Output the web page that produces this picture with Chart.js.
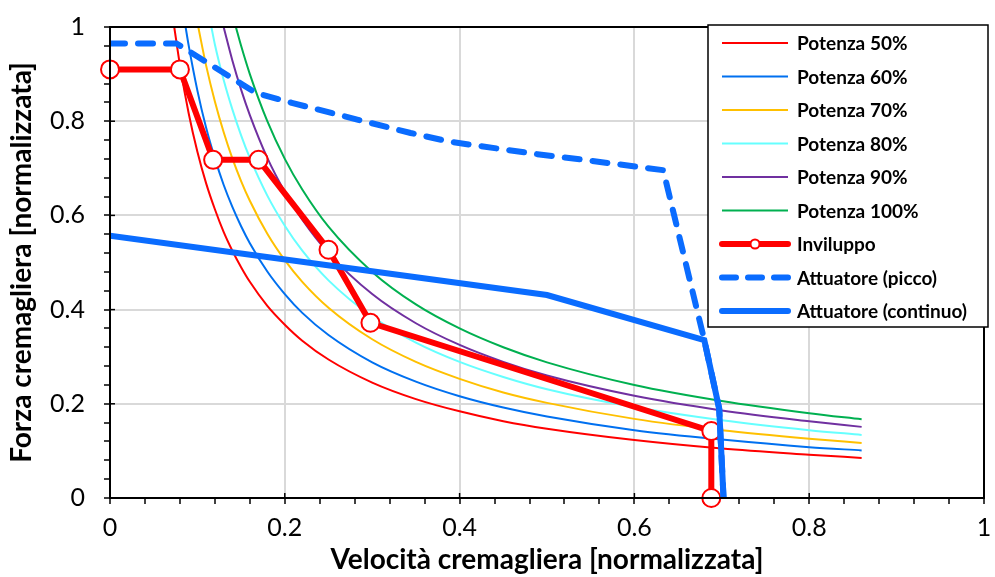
<!DOCTYPE html>
<html>
<head>
<meta charset="utf-8">
<script src="https://cdn.jsdelivr.net/npm/chart.js@4.4.1/dist/chart.umd.min.js"></script>
<style>
  html, body { margin: 0; padding: 0; background: #fff; }
  #wrap { width: 995px; height: 577px; }
</style>
</head>
<body>
<div id="wrap"><canvas id="chart" width="995" height="577"></canvas></div>
<script>
// Velocity samples shared by the power curves
const vel = [0.08, 0.09, 0.1, 0.11, 0.12, 0.13, 0.14, 0.15, 0.16, 0.18, 0.2, 0.22, 0.25, 0.3, 0.35, 0.4, 0.45, 0.5, 0.6, 0.7, 0.8, 0.86];

// Velocity where each power curve enters the plot (force = 1)
const velTop = [0.0735, 0.0865, 0.101, 0.116, 0.13, 0.144];

const potenza50  = [0.919, 0.817, 0.735, 0.668, 0.613, 0.565, 0.525, 0.49, 0.459, 0.408, 0.368, 0.334, 0.294, 0.245, 0.21, 0.184, 0.163, 0.147, 0.123, 0.105, 0.092, 0.085];
const potenza60  = [null, 0.961, 0.865, 0.786, 0.721, 0.665, 0.618, 0.577, 0.541, 0.481, 0.433, 0.393, 0.346, 0.288, 0.247, 0.216, 0.192, 0.173, 0.144, 0.124, 0.108, 0.101];
const potenza70  = [null, null, null, 0.918, 0.842, 0.777, 0.721, 0.673, 0.631, 0.561, 0.505, 0.459, 0.404, 0.337, 0.289, 0.253, 0.224, 0.202, 0.168, 0.144, 0.126, 0.117];
const potenza80  = [null, null, null, null, 0.963, 0.888, 0.825, 0.77, 0.722, 0.642, 0.578, 0.525, 0.462, 0.385, 0.33, 0.289, 0.257, 0.231, 0.193, 0.165, 0.144, 0.134];
const potenza90  = [null, null, null, null, null, null, 0.929, 0.867, 0.813, 0.722, 0.65, 0.591, 0.52, 0.433, 0.371, 0.325, 0.289, 0.26, 0.217, 0.186, 0.163, 0.151];
const potenza100 = [null, null, null, null, null, null, null, 0.96, 0.9, 0.8, 0.72, 0.655, 0.576, 0.48, 0.411, 0.36, 0.32, 0.288, 0.24, 0.206, 0.18, 0.167];

// Envelope
const invV = [0, 0.08, 0.118, 0.17, 0.25, 0.298, 0.688, 0.688];
const invF = [0.91, 0.91, 0.718, 0.718, 0.527, 0.372, 0.142, 0];

// Actuator, peak
const piccoV = [0, 0.076, 0.167, 0.208, 0.284, 0.344, 0.39, 0.489, 0.542, 0.633, 0.68, 0.697, 0.702];
const piccoF = [0.965, 0.965, 0.86, 0.839, 0.803, 0.775, 0.756, 0.73, 0.718, 0.696, 0.335, 0.19, 0];

// Actuator, continuous
const contV = [0, 0.5, 0.68, 0.697, 0.702];
const contF = [0.557, 0.431, 0.335, 0.19, 0];

const xTicks = ['0', '0.2', '0.4', '0.6', '0.8', '1'];
const yTicks = ['0', '0.2', '0.4', '0.6', '0.8', '1'];

const curveLabels = ['Potenza 50%', 'Potenza 60%', 'Potenza 70%', 'Potenza 80%', 'Potenza 90%', 'Potenza 100%'];
const curveColors = ['#ff0000', '#0070f0', '#ffc000', '#66ffff', '#7030a0', '#00b050'];
const curveValues = [potenza50, potenza60, potenza70, potenza80, potenza90, potenza100];
const actBlue = '#0a6cff';

const FONT = 'Lato, "Open Sans", sans-serif';

function pts(xs, ys) {
    const out = [];
    xs.forEach((x, i) => { if (ys[i] !== null) out.push({ x: x, y: ys[i] }); });
    return out;
}

const datasets = curveLabels.map((label, i) => ({
    label: label,
    data: [{ x: velTop[i], y: 1 }].concat(pts(vel, curveValues[i])),
    borderColor: curveColors[i],
    backgroundColor: curveColors[i],
    borderWidth: 2,
    pointRadius: 0,
    cubicInterpolationMode: 'monotone',
    order: 3 + i
}));

datasets.push({
    label: 'Inviluppo',
    data: pts(invV, invF),
    borderColor: '#ff0000',
    backgroundColor: '#ffffff',
    borderWidth: 6,
    pointRadius: 9,
    pointBorderWidth: 2,
    pointBorderColor: '#ff0000',
    pointBackgroundColor: '#ffffff',
    clip: false,
    order: 2
});
datasets.push({
    label: 'Attuatore (picco)',
    data: pts(piccoV, piccoF),
    borderColor: actBlue,
    borderWidth: 6,
    borderDash: [15, 13],
    borderCapStyle: 'round',
    pointRadius: 0,
    order: 1
});
datasets.push({
    label: 'Attuatore (continuo)',
    data: pts(contV, contF),
    borderColor: actBlue,
    borderWidth: 6,
    pointRadius: 0,
    order: 0
});

function isMajor(v) {
    return Math.abs(v * 5 - Math.round(v * 5)) < 1e-6;
}
function majorLabel(v, labels) {
    return labels[Math.round(v * 5)];
}

// Frame, inner major ticks and the boxed legend inside the plot
const framePlugin = {
    id: 'frame',
    afterDatasetsDraw(chart) {
        const ctx = chart.ctx;
        const a = chart.chartArea;
        const xs = chart.scales.x, ys = chart.scales.y;
        ctx.save();
        ctx.strokeStyle = '#000';
        ctx.lineWidth = 2;
        ctx.strokeRect(a.left, a.top, a.right - a.left, a.bottom - a.top);
        ctx.lineWidth = 1.5;
        for (let i = 0; i <= 5; i++) {
            const px = xs.getPixelForValue(i * 0.2);
            ctx.beginPath(); ctx.moveTo(px, a.bottom); ctx.lineTo(px, a.bottom - 5); ctx.stroke();
            const py = ys.getPixelForValue(i * 0.2);
            ctx.beginPath(); ctx.moveTo(a.left, py); ctx.lineTo(a.left + 5, py); ctx.stroke();
        }

        // legend
        const lx = 708, ly = 25, lw = 280, lh = 302;
        ctx.fillStyle = '#fff';
        ctx.fillRect(lx, ly, lw, lh);
        ctx.strokeStyle = '#000';
        ctx.lineWidth = 1.5;
        ctx.strokeRect(lx, ly, lw, lh);
        ctx.font = 'bold 19px ' + FONT;
        ctx.textBaseline = 'middle';
        ctx.textAlign = 'left';
        chart.data.datasets.forEach((ds, i) => {
            const y = ly + 18 + i * 33.5;
            ctx.save();
            ctx.strokeStyle = ds.borderColor;
            ctx.lineWidth = ds.borderWidth;
            ctx.lineCap = ds.borderWidth > 3 ? 'round' : 'butt';
            if (ds.borderDash) ctx.setLineDash([14, 12]);
            ctx.beginPath(); ctx.moveTo(722, y); ctx.lineTo(788, y); ctx.stroke();
            ctx.restore();
            if (ds.pointRadius) {
                ctx.beginPath();
                ctx.arc(755, y, 4.5, 0, Math.PI * 2);
                ctx.fillStyle = '#fff'; ctx.fill();
                ctx.strokeStyle = '#ff0000'; ctx.lineWidth = 2; ctx.stroke();
            }
            ctx.fillStyle = '#000';
            ctx.fillText(ds.label, 797, y + 1);
        });
        ctx.restore();
    }
};

new Chart(document.getElementById('chart'), {
    type: 'line',
    data: { datasets: datasets },
    options: {
        responsive: false,
        animation: false,
        layout: { padding: { left: 0, right: 5, top: 27, bottom: 0 } },
        plugins: { legend: { display: false }, tooltip: { enabled: false } },
        scales: {
            x: {
                type: 'linear',
                min: 0, max: 1,
                afterFit(s) { s.height = 79; s.paddingLeft = 0; s.paddingRight = 0; },
                ticks: {
                    stepSize: 0.04,
                    autoSkip: false,
                    maxRotation: 0,
                    padding: 9,
                    color: '#000',
                    font: { family: FONT, size: 25 },
                    callback: v => isMajor(v) ? majorLabel(v, xTicks) : ''
                },
                grid: {
                    color: c => (c.tick && isMajor(c.tick.value)) ? '#d9d9d9' : 'rgba(0,0,0,0)',
                    lineWidth: 2,
                    tickColor: '#000',
                    tickLength: 6,
                    tickWidth: 1.5
                },
                border: { color: '#000', width: 2 },
                title: {
                    display: true,
                    text: 'Velocità cremagliera [normalizzata]',
                    color: '#000',
                    font: { family: FONT, size: 28, weight: 'bold' },
                    padding: { top: 0, bottom: 0 }
                }
            },
            y: {
                type: 'linear',
                min: 0, max: 1,
                afterFit(s) { s.width = 110; s.paddingTop = 0; s.paddingBottom = 0; },
                ticks: {
                    stepSize: 0.04,
                    autoSkip: false,
                    padding: 19,
                    color: '#000',
                    font: { family: FONT, size: 25 },
                    callback: v => isMajor(v) ? majorLabel(v, yTicks) : ''
                },
                grid: {
                    color: c => (c.tick && isMajor(c.tick.value)) ? '#d9d9d9' : 'rgba(0,0,0,0)',
                    lineWidth: 2,
                    tickColor: '#000',
                    tickLength: 6,
                    tickWidth: 1.5
                },
                border: { color: '#000', width: 2 },
                title: {
                    display: true,
                    text: 'Forza cremagliera [normalizzata]',
                    color: '#000',
                    font: { family: FONT, size: 28, weight: 'bold' },
                    padding: { top: 5, bottom: 0 }
                }
            }
        }
    },
    plugins: [framePlugin]
});
</script>
</body>
</html>
